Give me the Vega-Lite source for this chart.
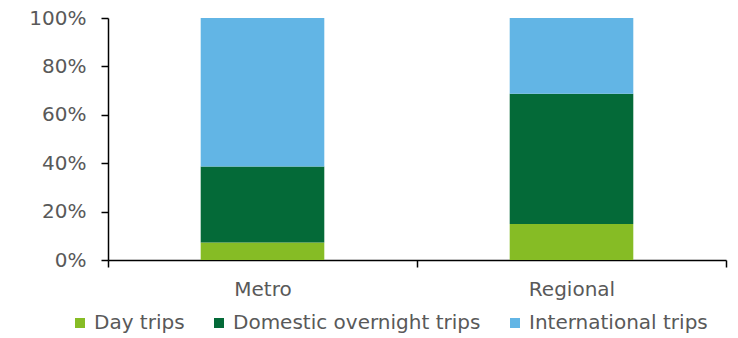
{
  "$schema": "https://vega.github.io/schema/vega-lite/v6.json",
  "width": 618,
  "height": 242,
  "autosize": {"type": "none"},
  "padding": {"left": 108, "top": 18, "right": 12, "bottom": 78},
  "background": "white",
  "config": {
    "font": "DejaVu Sans",
    "view": {"stroke": null}
  },
  "data": {
    "values": [
      {"region": "Metro", "trip": "Day trips", "seg": 1, "share": 0.072},
      {"region": "Metro", "trip": "Domestic overnight trips", "seg": 2, "share": 0.314},
      {"region": "Metro", "trip": "International trips", "seg": 3, "share": 0.614},
      {"region": "Regional", "trip": "Day trips", "seg": 1, "share": 0.149},
      {"region": "Regional", "trip": "Domestic overnight trips", "seg": 2, "share": 0.538},
      {"region": "Regional", "trip": "International trips", "seg": 3, "share": 0.313}
    ]
  },
  "mark": {"type": "bar", "width": {"band": 0.4}},
  "encoding": {
    "x": {
      "field": "region",
      "type": "nominal",
      "sort": ["Metro", "Regional"],
      "scale": {"paddingInner": 0, "paddingOuter": 0},
      "axis": {
        "title": null,
        "labelAngle": 0,
        "tickBand": "extent",
        "domainColor": "black",
        "domainWidth": 1.5,
        "tickColor": "black",
        "tickWidth": 1.5,
        "tickSize": 7,
        "labelFontSize": 20,
        "labelPadding": 12,
        "labelColor": "#595959"
      }
    },
    "y": {
      "field": "share",
      "type": "quantitative",
      "stack": "zero",
      "scale": {"domain": [0, 1], "nice": false},
      "axis": {
        "title": null,
        "grid": false,
        "values": [0, 0.2, 0.4, 0.6, 0.8, 1],
        "format": ".0%",
        "domainColor": "black",
        "domainWidth": 1.5,
        "tickColor": "black",
        "tickWidth": 1.5,
        "tickSize": 7,
        "labelFontSize": 20,
        "labelPadding": 15,
        "labelColor": "#595959"
      }
    },
    "order": {"field": "seg", "type": "quantitative", "sort": "ascending"},
    "color": {
      "field": "trip",
      "type": "nominal",
      "sort": ["Day trips", "Domestic overnight trips", "International trips"],
      "scale": {
        "domain": ["Day trips", "Domestic overnight trips", "International trips"],
        "range": ["#86BC25", "#046A38", "#62B5E5"]
      },
      "legend": {
        "title": null,
        "orient": "none",
        "direction": "horizontal",
        "legendX": -38,
        "legendY": 295,
        "padding": 0,
        "symbolType": "square",
        "symbolSize": 100,
        "symbolStrokeWidth": 0,
        "labelFontSize": 20,
        "labelColor": "#595959",
        "labelOffset": 4,
        "labelLimit": 400,
        "columnPadding": 24
      }
    }
  }
}
